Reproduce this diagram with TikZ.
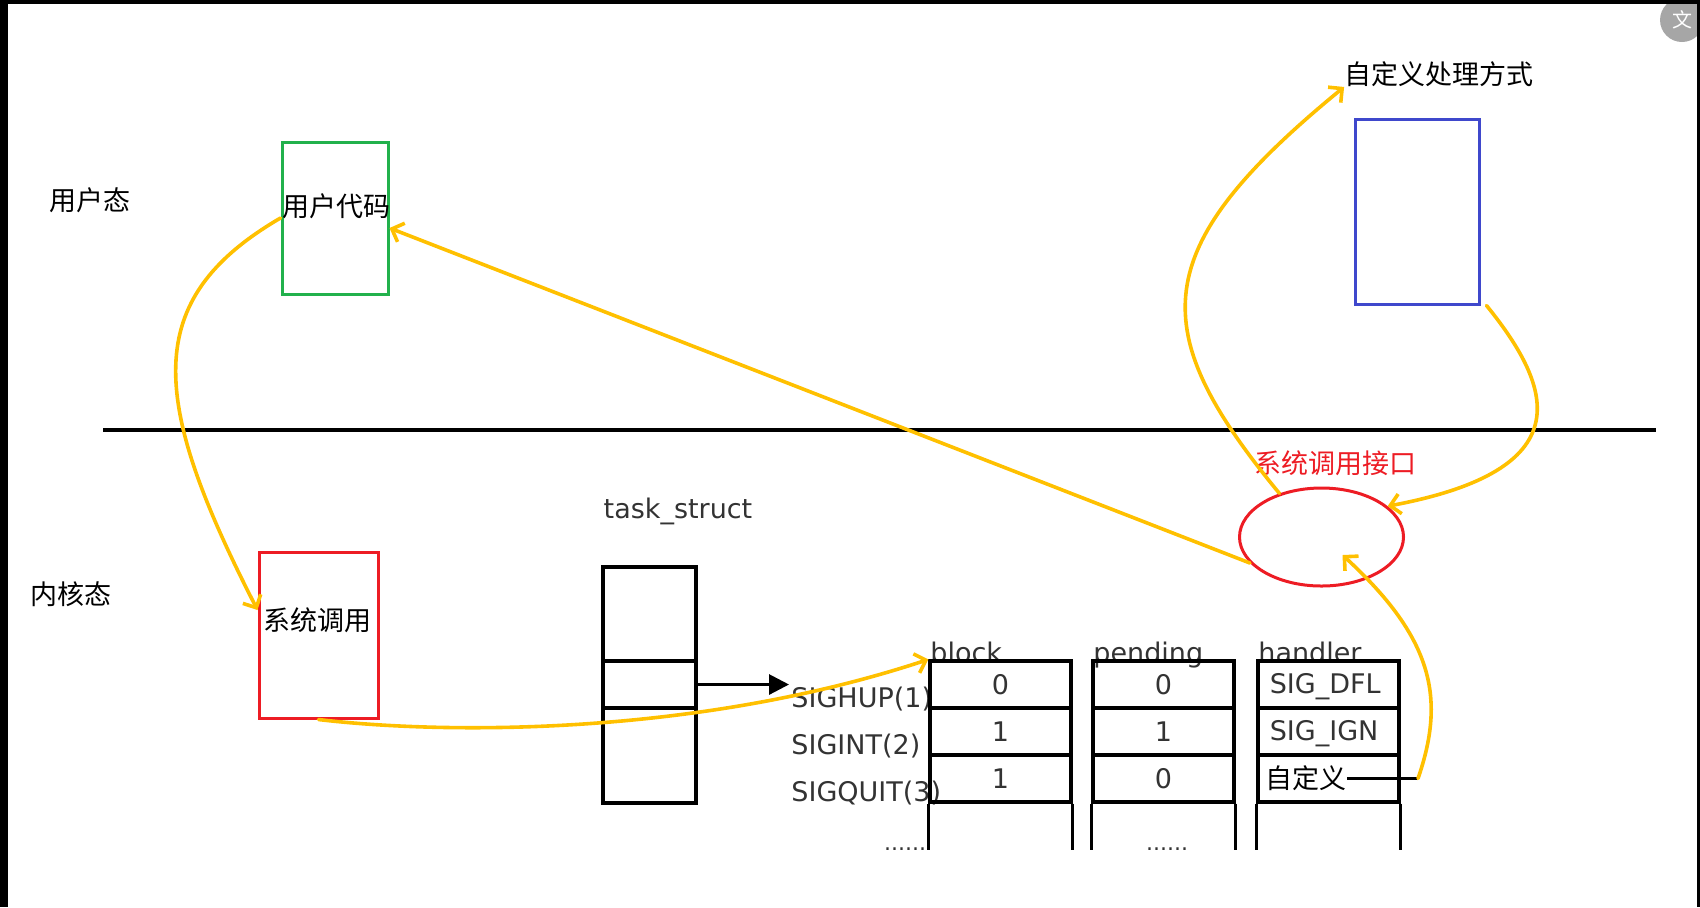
\documentclass[tikz,border=0pt]{standalone}
\usepackage{fontspec}
\setmainfont{DejaVu Sans}
\newfontfamily\cjk{Noto Sans CJK SC}
\usetikzlibrary{arrows.meta, positioning, shapes.geometric, calc}
\definecolor{hYellow}{HTML}{FFC000}
\definecolor{hGreen}{HTML}{22B14C}
\definecolor{hRed}{HTML}{ED1C24}
\definecolor{hBlue}{HTML}{3F48CC}
\definecolor{hGrey}{HTML}{333333}
\definecolor{hIcon}{HTML}{A6A6A6}

\begin{document}
\begin{tikzpicture}[x=0.5pt, y=-0.5pt,
    lbl/.style={font=\fontsize{13.5}{16}\selectfont, text=hGrey, inner sep=0pt},
    zh/.style={font=\cjk\fontsize{13.5}{16}\selectfont, inner sep=0pt},
    areabox/.style={draw=#1, line width=1.5pt, inner sep=0pt},
    cell/.style={draw, line width=1.6pt, minimum width=70.5pt, minimum height=23.5pt, inner sep=0pt},
    tsbox/.style={draw, line width=1.6pt, minimum width=46.5pt, inner sep=0pt},
    hand/.style={draw=hYellow, line width=1.8pt, line cap=round, -{Straight Barb[length=5pt, width=10pt]}}]
  \useasboundingbox (0,0) rectangle (1700,907);

  % screenshot frame and translate button
  \node[circle, fill=hIcon, minimum size=22pt, inner sep=0pt, font=\cjk\fontsize{10}{10}\selectfont, text=white] (xlate) at (1682,20) {文};
  \fill (0,0) rectangle (8,907);
  \fill (0,0) rectangle (1700,4);
  \fill (1697,0) rectangle (1700,907);

  % user / kernel split
  \coordinate (splitL) at (103,430);
  \coordinate (splitR) at (1656,430);
  \draw[line width=2pt] (splitL) -- (splitR);
  \node[zh] (usermode) at (90,200) {用户态};
  \node[zh] (kernmode) at (71,594) {内核态};

  % boxes
  \node[areabox=hGreen, minimum width=53pt, minimum height=76pt] (ucode) at (335,218) {};
  \node[zh] (ucodetxt) at (336,206) {用户代码};
  \node[areabox=hRed, minimum width=59.5pt, minimum height=83pt] (scall) at (318.5,635) {};
  \node[zh] (scalltxt) at (317,620) {系统调用};
  \node[areabox=hBlue, minimum width=62pt, minimum height=92.5pt] (hbox) at (1417,211.5) {};
  \node[zh] (htitle) at (1439,74) {自定义处理方式};
  \node[draw=hRed, line width=1.5pt, ellipse, minimum width=82pt, minimum height=49pt, inner sep=0pt] (sysif) at (1321.5,537) {};
  \node[zh, text=hRed] (siftxt) at (1335,463) {系统调用接口};

  % task_struct
  \node[lbl] (tstxt) at (678,511) {task\_struct};
  \node[tsbox, minimum height=47pt] (ts1) at (649.5,614) {};
  \node[tsbox, minimum height=23.5pt] (ts2) at (649.5,684.5) {};
  \node[tsbox, minimum height=47.5pt] (ts3) at (649.5,755.5) {};
  \coordinate (sigptr) at (789,684.5);
  \draw[line width=1.5pt, -{Triangle[length=10pt, width=10pt]}] (ts2.east) -- (sigptr);

  % signal table
  \foreach \name/\y [count=\r] in {SIGHUP(1)/699, SIGINT(2)/746, SIGQUIT(3)/793}
    \node[lbl, anchor=west] (sig\r) at (791,\y) {\name};
  \foreach \col/\cx/\head in {b/1000.5/block, p/1163.5/pending, h/1328.5/handler} {
    \node[lbl, anchor=base west] (head\col) at (\cx-70.5,662) {\head};
    \foreach \r/\cy in {1/684.5, 2/731.5, 3/778.5}
      \node[cell] (\col\r) at (\cx,\cy) {};
    \draw[line width=1.6pt] (\col3.south west) -- ++(0,46) (\col3.south east) -- ++(0,46);
  }
  \foreach \bv/\pv [count=\r] in {0/0, 1/1, 1/0} {
    \node[lbl] (bv\r) at (b\r) {\bv};
    \node[lbl] (pv\r) at (p\r) {\pv};
  }
  \node[lbl, anchor=west] (hv1) at ([xshift=6.5pt,yshift=-1pt]h1.west) {SIG\_DFL};
  \node[lbl, anchor=west] (hv2) at ([xshift=6.5pt,yshift=-1pt]h2.west) {SIG\_IGN};
  \node[zh, anchor=west] (hv3) at ([xshift=4.5pt]h3.west) {自定义};
  \coordinate (hookend) at (1418,778.5);
  \draw[line width=1.5pt] (hv3.east) -- (hookend);
  \node[lbl, font=\fontsize{11}{13}\selectfont, anchor=base] (bdots) at (905,850) {......};
  \node[lbl, font=\fontsize{11}{13}\selectfont, anchor=base] (pdots) at (1167,850) {......};

  % hand-drawn flow
  \draw[hand] (ucode.west) .. controls (140,300) and (150,400) .. ([yshift=12.5pt]scall.west);
  \draw[hand] (scall.south) .. controls (450,735) and (700,735) .. (b1.north west);
  \draw[hand] (sysif.200) -- ([yshift=-5pt]ucode.east);
  \draw[hand] (sysif.134) .. controls (1145,330) and (1145,250) .. (htitle.south west);
  \draw[hand] ([xshift=3pt]hbox.south east) .. controls (1555,390) and (1580,470) .. (sysif.25);
  \coordinate (ifhit) at ($(sysif.center)+(21,18)$);
  \draw[hand] (hookend) .. controls (1445,700) and (1435,640) .. (ifhit);
\end{tikzpicture}
\end{document}
